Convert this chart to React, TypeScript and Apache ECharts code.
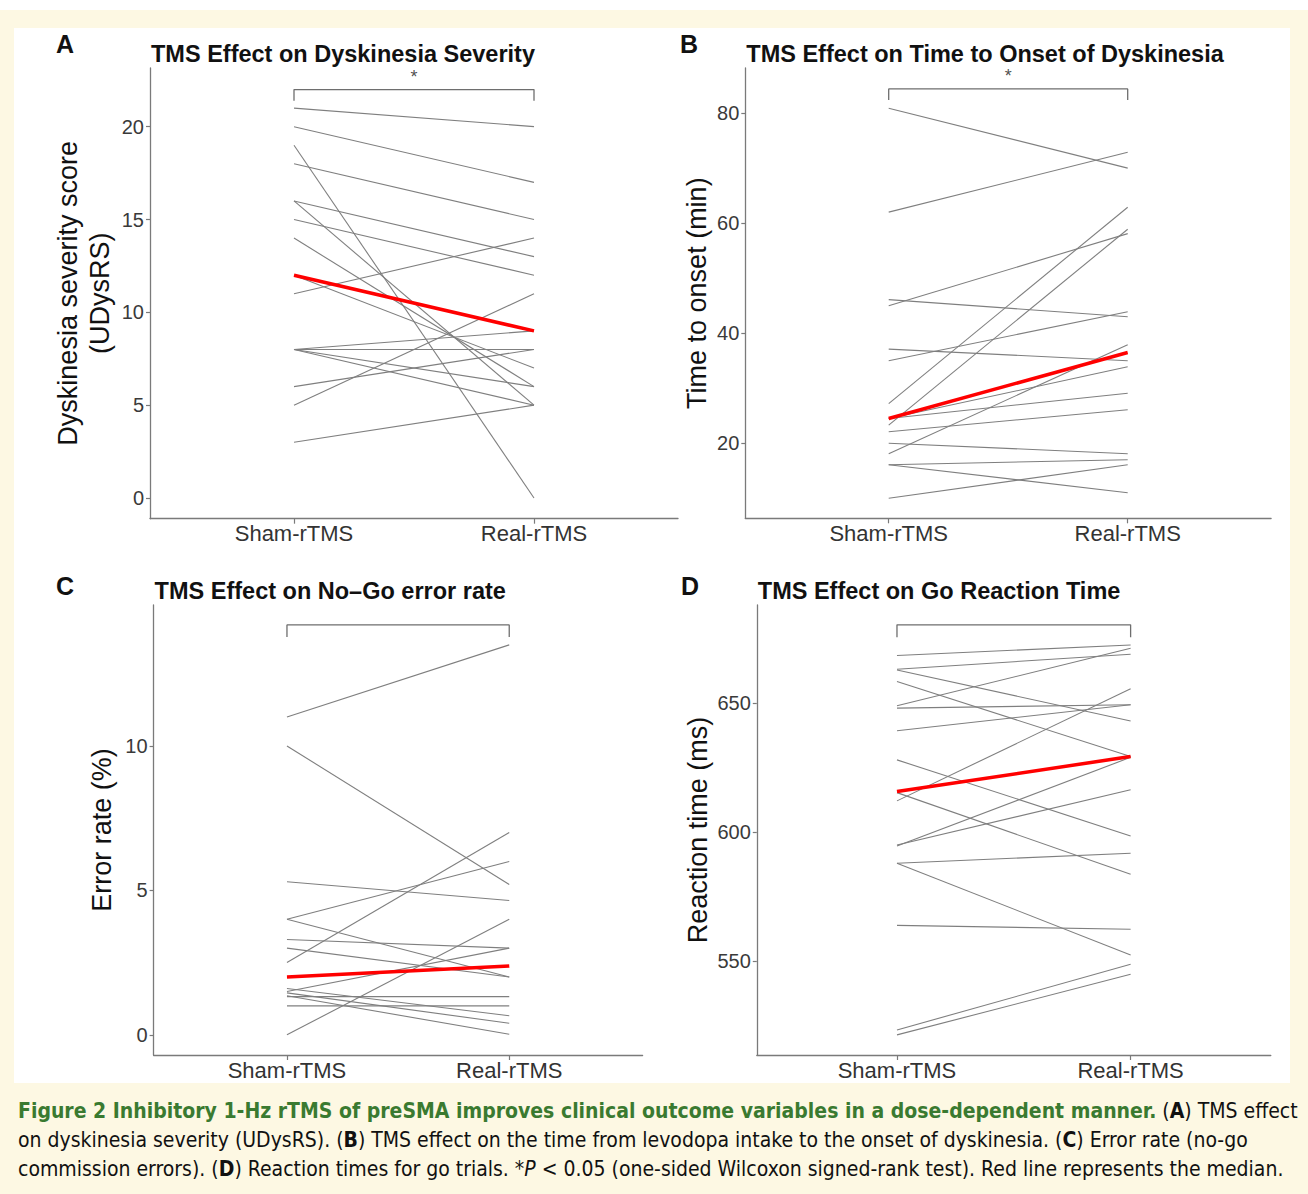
import React, { useEffect, useRef } from 'react';
import * as echarts from 'echarts';

const conditions = ['Sham-rTMS', 'Real-rTMS'];

// Panel A – dyskinesia severity (UDysRS)
const severitySham = [21, 20, 19, 18, 16, 16, 15, 14, 12, 11, 8, 8, 8, 8, 6, 5, 3];
const severityReal = [20, 17, 0, 15, 13, 5, 12, 6, 7, 14, 9, 8, 6, 5, 8, 11, 5];
const severityMedian = [12, 9];
const severityTicks = [0, 5, 10, 15, 20];

// Panel B – time to onset (min)
const onsetSham = [80.9, 62.0, 46.1, 45.0, 37.1, 35.0, 27.2, 23.3, 24.5, 24.5, 22.1, 20.0, 18.1, 16.1, 16.1, 10.0];
const onsetReal = [70.0, 72.9, 43.0, 58.1, 35.0, 43.9, 62.9, 58.9, 33.9, 29.1, 26.1, 18.1, 37.9, 17.0, 11.0, 16.1];
const onsetMedian = [24.5, 36.5];
const onsetTicks = [20, 40, 60, 80];

// Panel C – no-go error rate (%)
const errorSham = [11.0, 10.0, 5.3, 4.0, 4.0, 3.3, 3.0, 2.5, 1.6, 1.5, 1.45, 1.35, 1.32, 1.0, 0.0];
const errorReal = [13.5, 5.2, 4.65, 6.0, 2.0, 3.0, 2.0, 7.0, 0.66, 3.0, 0.4, 0.02, 1.32, 1.0, 4.0];
const errorMedian = [2.0, 2.38];
const errorTicks = [0, 5, 10];

// Panel D – go reaction time (ms)
const rtSham = [668.5, 663.2, 662.9, 658.4, 649.0, 648.1, 639.3, 628.0, 612.1, 615.3, 595.0, 594.6, 587.9, 587.9, 563.8, 523.2, 521.3];
const rtReal = [672.6, 669.0, 643.1, 629.3, 671.3, 649.4, 649.4, 598.5, 655.6, 583.6, 616.4, 629.0, 591.8, 552.3, 562.3, 548.7, 544.8];
const rtMedian = [615.7, 629.3];
const rtTicks = [550, 600, 650];

const panelTitles = [
  'TMS Effect on Dyskinesia Severity',
  'TMS Effect on Time to Onset of Dyskinesia',
  'TMS Effect on No\u2013Go error rate',
  'TMS Effect on Go Reaction Time',
];
const panelLetters = ['A', 'B', 'C', 'D'];
const axisTitles = [
  'Dyskinesia severity score\n(UDysRS)',
  'Time to onset (min)',
  'Error rate (%)',
  'Reaction time (ms)',
];

const FONT = '"Liberation Sans", Arial, Helvetica, sans-serif';
const CAP_FONT = '"Liberation Sans Narrow", "DejaVu Sans Condensed", "Liberation Sans", sans-serif';

const panels = [
  { sham: severitySham, real: severityReal, median: severityMedian, ticks: severityTicks,
    grid: { left: 150, top: 68, width: 528, height: 450.7 }, min: -1.115, max: 23.16,
    bracket: [21.4, 22.0], star: true, nameGap: 34, titleTop: 42, letter: [56, 31] },
  { sham: onsetSham, real: onsetReal, median: onsetMedian, ticks: onsetTicks,
    grid: { left: 745.3, top: 68, width: 525.8, height: 450.3 }, min: 6.36, max: 88.2,
    bracket: [82.4, 84.4], star: true, nameGap: 30, titleTop: 42, letter: [680, 31] },
  { sham: errorSham, real: errorReal, median: errorMedian, ticks: errorTicks,
    grid: { left: 153.6, top: 605, width: 489, height: 450 }, min: -0.7, max: 14.88,
    bracket: [13.77, 14.19], star: false, nameGap: 36, titleTop: 579, letter: [56, 573] },
  { sham: rtSham, real: rtReal, median: rtMedian, ticks: rtTicks,
    grid: { left: 756.8, top: 605, width: 514, height: 450 }, min: 513.5, max: 688.1,
    bracket: [675.6, 680.4], star: false, nameGap: 42, titleTop: 579, letter: [681, 573] },
];

function buildOption() {
  const grids: any[] = [];
  const xAxes: any[] = [];
  const yAxes: any[] = [];
  const series: any[] = [];
  const titles: any[] = [];
  const axisColor = '#7a7a7a';

  panels.forEach((p, i) => {
    grids.push({ ...p.grid });
    xAxes.push({
      gridIndex: i, type: 'value', min: 0.4, max: 2.6,
      axisLine: { show: true, onZero: false, lineStyle: { color: axisColor, width: 1.3 } },
      axisTick: { show: true, customValues: [1, 2], length: 5, lineStyle: { color: axisColor, width: 1.2 } },
      axisLabel: {
        customValues: [1, 2], margin: 4, fontSize: 22, color: '#333', fontFamily: FONT,
        formatter: (v: number) => conditions[Math.round(v) - 1] || '',
      },
      splitLine: { show: false },
    });
    yAxes.push({
      gridIndex: i, type: 'value', min: p.min, max: p.max,
      name: axisTitles[i], nameLocation: 'middle', nameGap: p.nameGap,
      nameTextStyle: { fontSize: 27, color: '#111', fontFamily: FONT, lineHeight: 32 },
      axisLine: { show: true, onZero: false, lineStyle: { color: axisColor, width: 1.3 } },
      axisTick: { show: true, customValues: p.ticks, length: 4, lineStyle: { color: axisColor, width: 1.2 } },
      axisLabel: { customValues: p.ticks, margin: 6, fontSize: 20, color: '#3a3a3a', fontFamily: FONT },
      splitLine: { show: false },
    });
    p.sham.forEach((s, j) => {
      series.push({
        type: 'line', xAxisIndex: i, yAxisIndex: i, silent: true, symbol: 'none', z: 2,
        data: [[1, s], [2, p.real[j]]],
        lineStyle: { color: '#7f7f7f', width: 1.1 },
      });
    });
    series.push({
      type: 'line', xAxisIndex: i, yAxisIndex: i, silent: true, symbol: 'none', z: 4,
      data: [[1, p.median[0]], [2, p.median[1]]],
      lineStyle: { color: '#ff0000', width: 3.5 },
    });
    series.push({
      type: 'line', xAxisIndex: i, yAxisIndex: i, silent: true, symbol: 'none', z: 3,
      data: [[1, p.bracket[0]], [1, p.bracket[1]], [2, p.bracket[1]], [2, p.bracket[0]]],
      lineStyle: { color: '#6e6e6e', width: 1.3 },
    });
    if (p.star) {
      series.push({
        type: 'scatter', xAxisIndex: i, yAxisIndex: i, silent: true, symbolSize: 1,
        itemStyle: { color: 'rgba(0,0,0,0)' },
        data: [[1.5, p.bracket[1]]],
        label: { show: true, position: 'top', distance: 3, formatter: '*', fontSize: 18, color: '#222', fontFamily: FONT },
      });
    }
    titles.push({
      text: panelTitles[i], left: p.grid.left + 1, top: p.titleTop, padding: 0,
      textStyle: { fontSize: 23.5, fontWeight: 'bold', color: '#111', fontFamily: FONT },
    });
    titles.push({
      text: panelLetters[i], left: p.letter[0], top: p.letter[1], padding: 0,
      textStyle: { fontSize: 25, fontWeight: 'bold', color: '#111', fontFamily: FONT },
    });
  });

  const capRich = {
    g: { fontFamily: CAP_FONT, fontSize: 21, fontWeight: 'bold', fill: '#3a7a30' },
    n: { fontFamily: CAP_FONT, fontSize: 21, fill: '#111' },
    b: { fontFamily: CAP_FONT, fontSize: 21, fontWeight: 'bold', fill: '#111' },
    i: { fontFamily: CAP_FONT, fontSize: 21, fontStyle: 'italic', fill: '#111' },
  };
  const capLines = [
    '{g|Figure 2 Inhibitory 1-Hz rTMS of preSMA improves clinical outcome variables in a dose-dependent manner.}{n| (}{b|A}{n|) TMS effect}',
    '{n|on dyskinesia severity (UDysRS). (}{b|B}{n|) TMS effect on the time from levodopa intake to the onset of dyskinesia. (}{b|C}{n|) Error rate (no-go}',
    '{n|commission errors). (}{b|D}{n|) Reaction times for go trials. *}{i|P}{n| < 0.05 (one-sided Wilcoxon signed-rank test). Red line represents the median.}',
  ];

  const graphic: any[] = [
    { type: 'rect', silent: true, z: -10, shape: { x: 0, y: 0, width: 1308, height: 10 }, style: { fill: '#ffffff' } },
    { type: 'rect', silent: true, z: -10, shape: { x: 14, y: 28, width: 1276, height: 1055 }, style: { fill: '#ffffff' } },
  ];
  capLines.forEach((t, k) => {
    graphic.push({
      type: 'text', silent: true, x: 18, y: 1111 + k * 29,
      style: { text: t, rich: capRich, fill: '#111', verticalAlign: 'middle', align: 'left' },
    });
  });

  return {
    animation: false,
    backgroundColor: '#fdf8e3',
    title: titles,
    grid: grids,
    xAxis: xAxes,
    yAxis: yAxes,
    series,
    graphic,
  };
}

export default function App() {
  const ref = useRef<HTMLDivElement>(null);
  useEffect(() => {
    if (!ref.current) return;
    const chart = echarts.init(ref.current, undefined, { renderer: 'svg' });
    chart.setOption(buildOption() as any);
    return () => chart.dispose();
  }, []);
  return (
    <div
      ref={ref}
      style={{ position: 'absolute', left: 0, top: 0, width: 1308, height: 1194 }}
    />
  );
}
